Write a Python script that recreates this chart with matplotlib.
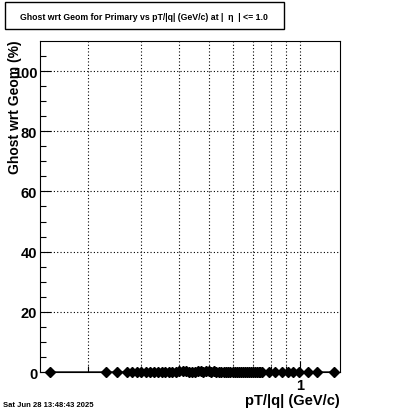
import numpy as np
import matplotlib
matplotlib.use("Agg")
import matplotlib.pyplot as plt
from matplotlib.patches import Rectangle
from matplotlib.ticker import FixedLocator, NullFormatter

# pT/|q| bin centres (GeV/c) and ghost rate (%)
pt = [0.15, 0.23, 0.25,
      0.27, 0.28, 0.29, 0.30, 0.31, 0.32, 0.33, 0.34, 0.35, 0.36,
      0.37, 0.38, 0.39, 0.40, 0.41, 0.42, 0.43, 0.44, 0.45, 0.46,
      0.47, 0.48, 0.49, 0.50, 0.51, 0.52, 0.53, 0.54, 0.55, 0.56,
      0.57, 0.58, 0.59, 0.60, 0.61, 0.62, 0.63, 0.64, 0.65, 0.66,
      0.67, 0.68, 0.69, 0.70, 0.71, 0.72, 0.73, 0.74, 0.75,
      0.79, 0.83, 0.87, 0.91, 0.95, 0.99, 1.06, 1.14, 1.29]
ghost = [0.0, 0.0, 0.0,
         0.0, 0.0, 0.0, 0.0, 0.0, 0.0, 0.0, 0.0, 0.0, 0.0,
         0.0, 0.0, 0.0, 0.4, 0.3, 0.4, 0.0, 0.0, 0.0, 0.3,
         0.3, 0.0, 0.3, 0.3, 0.0, 0.3, 0.0, 0.0, 0.0, 0.0,
         0.0, 0.0, 0.0, 0.0, 0.0, 0.0, 0.0, 0.0, 0.0, 0.0,
         0.0, 0.0, 0.0, 0.0, 0.0, 0.0, 0.0, 0.0, 0.0,
         0.0, 0.0, 0.0, 0.0, 0.0, 0.0, 0.0, 0.0, 0.0]

yticks = [0, 20, 40, 60, 80, 100]
xgrid = [0.2, 0.3, 0.4, 0.5, 0.6, 0.7, 0.8, 0.9, 1.0]

plt.rcParams['font.family'] = ['Liberation Sans', 'DejaVu Sans']
plt.rcParams['font.weight'] = 'bold'

W, H = 400, 414
fig = plt.figure(figsize=(4, 4.14), dpi=100)
ax = fig.add_axes([0.1, 0.099, 0.75, 0.7996])

ax.plot(pt, ghost, color='black', lw=1.0, marker='D', ms=5.5,
        mfc='black', mec='black', zorder=3, clip_on=False)

ax.set_xscale('log')
ax.set_xlim(0.139, 1.355)
ax.set_ylim(0, 110)

# dotted grid like ROOT
for g in xgrid:
    ax.axvline(g, color='black', ls=(0, (1, 2)), lw=0.8, zorder=1)
for g in yticks[1:]:
    ax.axhline(g, color='black', ls=(0, (1, 2)), lw=0.8, zorder=1)

ax.xaxis.set_major_locator(FixedLocator([1.0]))
ax.xaxis.set_minor_locator(FixedLocator(xgrid[:-1]))
ax.xaxis.set_minor_formatter(NullFormatter())
ax.set_xticklabels(['1'])
ax.yaxis.set_major_locator(FixedLocator(yticks))
ax.yaxis.set_minor_locator(FixedLocator([5, 10, 15, 25, 30, 35, 45, 50, 55, 65, 70, 75,
                                         85, 90, 95, 105]))

ax.tick_params(which='both', direction='in', top=False, right=False, width=0.8)
ax.tick_params(which='major', length=8)
ax.tick_params(which='minor', length=4)
ax.tick_params(axis='y', labelsize=10.5, pad=2)
ax.tick_params(axis='x', labelsize=10.5, pad=4)
for lab in ax.get_xticklabels() + ax.get_yticklabels():
    lab.set_fontweight('bold')

for s in ax.spines.values():
    s.set_linewidth(0.8)

# axis titles placed like ROOT (right / top aligned)
fig.text(15 / W, 1 - 40 / H, 'Ghost wrt Geom (%)', rotation=90,
         ha='center', va='top', fontsize=10, fontweight='bold')
fig.text(340 / W, 1 - 401 / H, 'pT/|q| (GeV/c)',
         ha='right', va='center', fontsize=10.5, fontweight='bold')

# title box
fig.patches.append(Rectangle((5 / W, 1 - 30 / H), 279 / W, 27 / H,
                             transform=fig.transFigure, fill=False,
                             edgecolor='black', lw=1.0))
fig.text(144 / W, 1 - 17 / H,
         'Ghost wrt Geom for Primary vs pT/|q| (GeV/c) at |  \u03b7  | <= 1.0',
         ha='center', va='center', fontsize=6.3, fontweight='bold')

fig.text(3 / W, 1 - 406 / H, 'Sat Jun 28 13:48:43 2025',
         ha='left', va='center', fontsize=5.5, fontweight='bold')

fig.savefig('out.png', dpi=100)
